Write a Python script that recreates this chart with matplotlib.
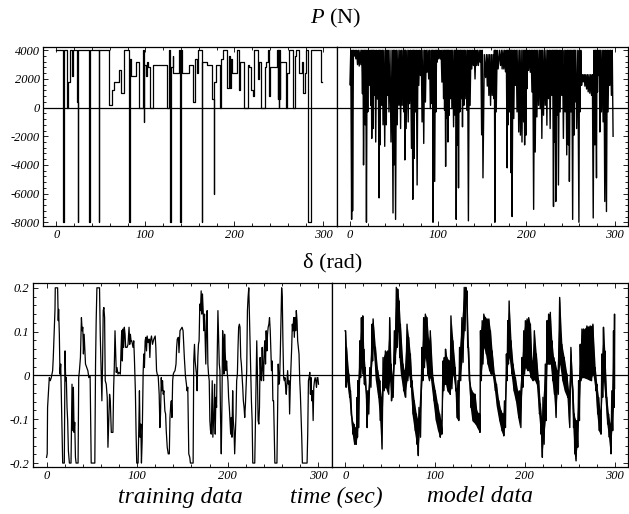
import matplotlib
matplotlib.use('Agg')
import matplotlib.pyplot as plt
from matplotlib.ticker import MultipleLocator, FuncFormatter

plt.rcParams['font.family'] = ['Liberation Serif', 'DejaVu Serif']
plt.rcParams['mathtext.fontset'] = 'custom'
plt.rcParams['mathtext.rm'] = 'Liberation Serif'
plt.rcParams['mathtext.it'] = 'Liberation Serif:italic'
plt.rcParams['axes.unicode_minus'] = False

# ---- training data: thrust P (N), piecewise constant (time of change, new level)
p_train_t = [0, 7.8, 8.4, 12.0, 13.2, 14.8, 17.5, 18.6, 23.3, 24.0,
             24.6, 37.0, 37.6, 47.6, 48.2, 59.0, 62.3, 65.3, 69.9, 72.8,
             75.7, 81.8, 82.4, 83.5, 89.5, 92.5, 97.2, 98.3, 98.9, 100.8,
             101.8, 102.8, 105.5, 109.0, 124.2, 126.5, 128.0, 128.6, 130.6, 131.5,
             137.5, 139.4, 140.0, 141.2, 148.5, 153.5, 155.5, 157.5, 159.6, 163.2,
             163.8, 169.0, 175.0, 176.8, 177.4, 179.5, 184.3, 185.5, 187.5, 191.2,
             193.5, 194.9, 196.0, 197.8, 203.0, 205.0, 206.2, 211.0, 215.4, 217.0,
             219.0, 220.5, 222.0, 226.5, 228.2, 230.2, 234.8, 236.0, 237.8, 238.8,
             240.0, 248.0, 248.6, 249.2, 249.8, 250.4, 251.0, 251.6, 257.6, 259.5,
             261.2, 266.2, 267.6, 269.4, 273.2, 275.8, 277.6, 279.4, 281.0, 282.2,
             285.8, 297.8, 299.0]
p_train_v = [4000, -8000, 4000, 0, 1800, 4000, 2200, 4000, 400, -8000,
             4000, -8000, 4000, -8000, 4000, 200, 1200, 1800, 2600, 1000,
             4000, -8000, 3400, 2200, 3200, 0, 4000, -1000, 3000, 2200,
             3200, 2800, 0, 3000, 0, 4000, -8000, 2800, 3600, 2400,
             4000, -8000, 4000, 2400, 3000, 400, 3400, 2400, 4000, -8000,
             3200, 3000, 600, -6000, 1800, 3000, 0, 3400, 4000, 1400,
             3600, 1400, 3400, 2400, 4000, 1200, 3200, 0, 3000, 2800,
             1200, 800, 4000, 2000, 3200, 0, 2800, 3200, 4000, 800,
             2800, 4000, 600, 4000, 0, 4000, 600, 3200, 0, 2400,
             4000, 0, 3600, 4000, 2400, 3200, 1000, 2400, 4000, -8000,
             4000, 1800, 1800]

# ---- model data: thrust P (N), successive spike minima and the level reached between them
p_model_t = [0.0, 1.9, 3.0, 4.9, 6.7, 8.6, 10.5, 12.4, 14.2, 15.4,
             17.2, 18.7, 20.2, 21.7, 23.6, 24.7, 26.2, 27.4, 29.2, 31.1,
             33.0, 34.1, 36.0, 37.5, 39.4, 41.2, 42.4, 44.2, 46.5, 48.8,
             49.9, 51.7, 53.6, 55.5, 57.4, 59.2, 61.1, 62.2, 63.7, 66.0,
             67.5, 69.7, 71.2, 72.7, 74.2, 76.1, 78.0, 79.9, 81.7, 83.6,
             85.5, 87.4, 89.2, 91.1, 93.0, 94.1, 96.0, 97.5, 98.6, 100.5,
             102.4, 104.2, 106.1, 107.2, 108.4, 109.9, 111.0, 112.5, 114.0, 115.5,
             117.4, 119.2, 120.4, 121.9, 123.0, 124.5, 126.0, 127.5, 129.0, 130.5,
             132.4, 134.2, 136.1, 138.0, 139.9, 141.7, 143.6, 145.5, 147.4, 149.2,
             150.7,
             153.7, 155.6, 157.4, 159.3, 161.2, 163.1, 164.2, 165.7, 167.9, 170.6,
             172.4, 174.3, 176.2, 178.1, 179.2, 180.7, 182.6, 183.7, 185.6, 187.4,
             189.3, 191.2, 193.1, 194.9, 196.8, 197.9, 199.4, 200.6, 202.4, 204.3,
             206.2, 208.1, 209.9, 211.8, 213.7, 215.6, 217.4, 219.3, 221.2, 223.1,
             224.9, 226.8, 228.7, 230.6, 231.7, 233.2, 234.7, 236.2, 238.1, 239.9,
             241.8, 243.7, 245.6, 247.4, 248.6, 250.4, 252.3, 253.8, 254.9, 256.8,
             259.4, 260.6, 262.4, 264.3, 266.2, 268.1, 269.9, 271.8, 273.7, 275.6,
             277.4, 279.3, 280.4, 281.9, 283.1, 284.9, 286.8, 288.7, 290.6, 292.4,
             294.3, 296.2, 298.1]
p_model_min = [1600, -7800, -7200, 3600, 3400, 3000, 2900, 3000, 970, -4000,
               -1200, -8000, -300, 1550, 160, -2150, -1460, 850, -2400, 600,
               -6300, -2600, 160, -1200, -2700, -1200, 850, -300, -2400, -7350,
               -4000, -7800, -1200, 160, -1460, 160, -300, -3650, -1460, -1000,
               280, -2840, -6400, -3540, -300, -5400, 1550, 2240, -1000, -2500,
               390, 2470, 2000, -70, 280, -8000, -5150, -300, 3170, 3400,
               3400, 1780, 625, -185, -4100, -760, -2400, -530, 625, -70,
               -1340, -530, -7800, -2600, -5600, -300, 625, -1340, 160, 625,
               -185, -7900, 160, 2700, 2940, 2000, 2940, 2940, 3170, -1900,
               -4900,
               2100, 1500, 850, 160, 850, 625, -8000, -300, 2700, 2940,
               2700, 2700, 2500, -4200, -1200, -300, -4550, -7600, -760, 1550,
               -300, -1700, -1920, -2400, -995, -2600, -1920, 1320, 2600, 2470,
               1090, -7100, -3100, -650, 160, -70, -2150, -530, 160, -1225,
               625, -1460, 855, -6900, -2400, -6550, -530, -5400, -300, 855,
               -2150, -300, -3300, -2600, -5150, -300, -7800, -1920, 390, -1460,
               -8000, -300, 1550, 1800, 1500, 1300, 1100, 1000, 855, -7700,
               -2600, -4900, 1090, 2240, -1700, -300, -995, -6550, -7250, -300,
               1550, 855, -2000]
p_model_top = [4000] * 91 + [3700] * 6 + [4000] * 57 + [2300] * 7 + [4000] * 13

# ---- training data: rudder angle delta (rad)
d_train_t = [0.0, 0.7, 1.1, 2.2, 3.0, 4.1, 5.2, 6.7, 7.4, 8.5,
             9.3, 9.6, 12.2, 12.9, 13.3, 14.1, 14.8, 15.6, 16.3, 17.0,
             17.8, 19.6, 20.4, 21.1, 21.8, 22.6, 23.3, 24.1, 25.2, 27.0,
             28.1, 28.9, 29.6, 30.4, 31.1, 31.9, 32.6, 34.8, 35.5, 36.3,
             37.4, 38.5, 39.3, 40.0, 40.7, 41.5, 42.2, 43.0, 44.4, 45.6,
             46.7, 48.1, 49.3, 53.3, 54.1, 54.8, 55.6, 58.5, 59.3, 60.4,
             61.1, 61.9, 62.6, 63.3, 64.1, 64.8, 65.9, 67.0, 67.8, 68.9,
             69.6, 70.4, 71.5, 73.3, 74.1, 74.8, 75.6, 76.3, 77.0, 77.8,
             78.9, 80.0, 81.5, 82.2, 83.0, 83.7, 84.4, 85.2, 85.9, 86.7,
             87.4, 88.9, 90.0, 91.1, 91.9, 92.6, 93.3, 94.1, 95.5, 96.3,
             97.0, 98.1, 98.9, 99.6, 101.1, 101.9, 102.6, 103.3, 104.1, 104.8,
             105.6, 106.7, 107.4, 108.1, 108.9, 109.6, 110.4, 111.1, 112.2, 113.3,
             114.1, 114.8, 115.9, 117.0, 118.5, 120.0, 120.7, 121.5, 122.2, 123.3,
             124.4, 125.2, 125.9, 126.7, 127.4, 128.1, 128.9, 129.6, 130.7, 131.5,
             132.2, 133.3, 134.4, 135.6, 136.3, 137.0, 137.8, 138.5, 139.3, 140.0,
             140.7, 141.9, 143.0, 143.7, 144.4, 145.6, 146.3, 147.4,
             149.7, 150.8, 151.5, 152.2, 153.4, 154.5, 155.2, 156.0, 157.1, 158.2,
             158.9, 161.9, 162.6, 163.4, 164.1, 164.8, 165.6, 166.3, 167.1, 167.8,
             168.5, 169.3, 170.0, 170.8, 171.5, 172.2, 173.0, 173.7, 174.5, 175.2,
             175.9, 176.7, 177.4, 178.2, 178.9, 179.7, 180.4, 181.1, 181.9, 183.0,
             183.7, 184.8, 185.6, 186.3, 187.1, 187.8, 188.5, 189.3, 190.0, 190.8,
             191.5, 192.2, 193.0, 193.7, 194.5, 195.2, 195.9, 196.7, 197.4, 198.2,
             198.9, 199.7, 200.4, 201.1, 201.9, 202.6, 203.4, 204.1, 204.8, 205.6,
             206.3, 207.1, 207.8, 208.5, 209.3, 210.0, 210.8, 211.5, 212.2, 213.0,
             213.7, 214.5, 215.2, 215.9, 216.7, 217.4, 218.2, 218.9, 219.7, 220.4,
             221.1, 221.9, 222.6, 223.4, 224.1, 224.8, 225.6, 226.3, 227.1, 227.8,
             230.0, 230.8, 231.5, 232.2, 233.0, 233.7, 234.5, 235.2, 235.9, 236.7,
             237.4, 238.2, 238.9, 239.7, 240.4, 241.1, 241.9, 242.6, 243.4, 244.1,
             244.8, 245.6, 246.3, 247.1, 247.8, 248.5, 249.3, 250.0, 250.8, 251.5,
             252.2, 254.5, 255.2, 255.9, 256.7, 257.4, 258.2, 258.9, 259.7, 260.4,
             261.1, 261.9, 262.6, 263.4, 264.1, 264.8, 265.6, 266.3, 267.1, 267.8,
             268.5, 269.3, 270.0, 270.8, 271.5, 272.2, 273.0, 273.7, 274.5, 275.2,
             275.9, 276.7, 277.4, 278.2, 278.9, 279.7, 280.4, 281.1, 281.9, 282.6,
             287.8, 288.5, 289.3, 290.0, 290.8, 291.5, 292.2, 293.0, 293.7, 294.5,
             295.2, 296.0, 296.7, 297.4, 298.2, 298.9, 299.7, 300.4]
d_train_v = [-0.187, -0.179, -0.073, -0.035, -0.005, -0.012, -0.005, 0.011, 0.041, 0.102,
             0.151, 0.2, 0.2, 0.125, 0.151, 0.094, 0.003, 0.026, -0.050, -0.134,
             -0.2, -0.2, 0.056, -0.012, -0.005, -0.073, -0.103, -0.172, -0.2, -0.2,
             -0.020, -0.126, -0.027, -0.130, -0.107, -0.187, -0.2, -0.2, -0.005, 0.011,
             0.041, 0.132, 0.102, 0.110, 0.049, 0.094, 0.064, 0.026, 0.018, 0.011,
             -0.005, -0.001, -0.2, -0.2, 0.026, 0.125, 0.2, 0.2, 0.094, -0.005,
             -0.058, 0.033, 0.148, 0.155, 0.132, -0.012, -0.020, -0.050, -0.164, -0.088,
             -0.043, -0.058, -0.130, -0.130, -0.027, 0.018, 0.102, 0.056, 0.007, 0.018,
             0.003, 0.007, 0.003, 0.056, 0.102, 0.033, 0.106, 0.064, 0.110, 0.094,
             0.064, 0.064, 0.071, 0.110, 0.071, 0.094, 0.079, 0.079, 0.064, 0.079,
             0.041, -0.035, -0.134, -0.2, -0.2, -0.119, -0.035, -0.141, -0.111, -0.2,
             -0.149, 0.007, 0.049, 0.018, 0.079, 0.087, 0.056, 0.090, 0.075, 0.083,
             0.041, 0.079, 0.090, 0.071, 0.083, 0.090, 0.064, 0.011, 0.003, -0.001,
             -0.043, -0.119, -0.088, -0.005, -0.035, -0.012, -0.043, -0.035, -0.081, -0.088,
             -0.126, -0.164, -0.179, -0.179, -0.096, -0.073, -0.058, -0.096, -0.012, 0.003,
             0.007, 0.011, 0.026, 0.064, 0.083, 0.087, 0.052, 0.102,
             0.110, 0.102, 0.071, 0.041, -0.001, -0.020, -0.035, -0.027, -0.179, -0.187,
             -0.2, -0.2, 0.033, 0.071, 0.033, 0.018, 0.003, -0.035, 0.041, 0.071,
             0.079, 0.163, 0.148, 0.193, 0.140, 0.186, 0.148, 0.102, 0.140, 0.079,
             0.026, 0.125, 0.148, 0.026, 0.003, -0.012, -0.103, -0.126, -0.134, -0.012,
             -0.141, -0.088, -0.020, -0.134, -0.050, -0.073, 0.041, 0.148, 0.094, 0.026,
             0.011, -0.096, -0.179, -0.073, 0.102, 0.079, 0.003, 0.094, 0.049, 0.011,
             0.033, 0.003, -0.012, -0.050, -0.073, -0.103, -0.134, -0.096, -0.141, -0.035,
             -0.103, -0.126, -0.179, -0.134, -0.088, -0.012, 0.003, 0.064, 0.110, 0.117,
             0.110, 0.041, 0.026, 0.003, -0.027, -0.058, -0.073, -0.096, -0.065, -0.027,
             0.011, 0.148, 0.178, 0.2, 0.140, 0.079, 0.003, -0.058, -0.103, -0.2,
             -0.2, -0.103, -0.027, 0.079, -0.005, -0.103, -0.111, -0.073, 0.041, -0.005,
             -0.012, 0.064, 0.018, -0.012, 0.056, 0.079, 0.026, 0.102, 0.056, 0.094,
             0.110, 0.117, 0.132, 0.102, 0.056, 0.011, 0.033, -0.058, -0.058, -0.126,
             -0.2, -0.2, -0.096, 0.026, -0.020, -0.012, 0.049, 0.125, 0.2, 0.178,
             0.079, -0.005, -0.012, -0.005, -0.027, -0.043, -0.012, 0.011, -0.020, -0.012,
             -0.088, -0.020, 0.018, 0.064, 0.117, 0.102, 0.132, 0.087, 0.132, 0.102,
             0.148, 0.125, 0.079, 0.064, 0.049, -0.012, -0.043, -0.088, -0.141, -0.2,
             -0.2, -0.134, -0.012, -0.005, 0.007, -0.043, -0.005, -0.058, -0.035, -0.103,
             -0.027, -0.012, -0.005, -0.012, -0.027, -0.005, -0.005, -0.020]

# ---- model data: rudder angle delta (rad), upper and lower edge of the oscillating trace
d_model_t = [0.0, 0.5, 1.5, 4.1, 5.9, 7.8, 9.6, 11.5, 13.3, 14.1,
             16.3, 18.1, 19.6, 20.7, 22.2, 23.7, 25.2, 27.4, 30.0, 31.1,
             33.7, 36.3, 38.5, 40.0, 42.2, 44.8, 47.4, 49.6, 51.1, 52.2,
             54.8, 57.0, 58.5, 60.0, 61.5, 64.4, 65.9, 68.9, 70.7, 72.6,
             74.4, 77.0, 79.3, 80.7, 82.2, 85.6, 87.4, 89.3, 91.1, 93.0,
             94.8, 97.8, 100.4, 103.0, 105.2, 106.7, 108.9, 110.4, 111.8, 113.3,
             116.3, 117.8, 120.0, 122.6, 123.7, 125.6, 127.4, 130.0, 132.6, 134.4,
             135.6, 137.4, 139.3, 141.1, 144.8, 146.7, 149.6, 150.7, 152.6, 154.4,
             156.3, 158.1, 160.0, 161.8, 163.7, 166.3, 168.5, 171.1, 173.7, 175.9,
             177.4, 179.6, 181.1, 182.6, 184.8, 187.0, 189.6, 192.2, 194.4, 197.0,
             198.9, 200.7, 202.6, 204.4, 206.3, 208.1, 210.7, 212.9, 215.5, 217.4,
             218.9, 220.3, 222.9, 224.8, 226.6, 228.5, 230.3, 232.2, 234.0, 235.9,
             238.9, 241.4, 244.0, 247.0, 248.9, 251.4, 253.7, 255.1, 256.3, 258.1,
             260.0, 261.8, 263.7, 265.5, 269.2, 272.9, 275.9, 278.5, 280.3, 282.2,
             284.0, 285.9, 287.7, 289.2, 291.4, 293.3, 295.1, 297.0, 298.9, 300.0]
d_model_hi = [0.102, 0.102, 0.064, 0.003, -0.035, -0.100, -0.111, -0.120, -0.050, -0.012,
              0.079, 0.132, 0.136, 0.060, 0.018, -0.043, -0.035, 0.018, 0.117, 0.129,
              0.064, 0.011, -0.012, -0.050, 0.041, 0.056, 0.056, 0.132, 0.026, 0.000,
              0.102, 0.201, 0.197, 0.170, 0.117, 0.026, 0.011, 0.117, 0.087, 0.049,
              -0.012, -0.058, -0.088, -0.100, -0.073, 0.064, 0.132, 0.140, 0.132, 0.079,
              0.102, -0.005, -0.035, -0.065, -0.088, -0.103, 0.033, 0.041, 0.060, 0.041,
              0.033, 0.136, 0.079, 0.018, -0.030, -0.012, 0.064, 0.132, 0.201, 0.201,
              0.193, 0.064, -0.020, -0.035, -0.043, -0.081, -0.088, 0.102, 0.125, 0.140,
              0.132, 0.129, 0.129, 0.102, 0.056, 0.003, -0.020, -0.058, -0.081, -0.088,
              -0.058, 0.049, 0.125, 0.170, 0.079, 0.026, -0.005, -0.035, -0.035, 0.041,
              0.102, 0.125, 0.129, 0.132, 0.117, 0.033, 0.102, 0.049, -0.012, -0.065,
              -0.100, -0.050, 0.026, 0.125, 0.140, 0.144, 0.079, 0.041, 0.030, 0.011,
              0.178, 0.071, 0.041, 0.003, -0.035, 0.064, -0.035, -0.088, -0.100, -0.103,
              -0.012, 0.071, 0.106, 0.106, 0.113, 0.113, 0.117, 0.018, -0.020, -0.050,
              -0.081, 0.049, 0.110, 0.056, -0.050, -0.088, -0.111, -0.035, 0.102, 0.140]
d_model_lo = [0.102, -0.027, -0.012, -0.050, -0.090, -0.134, -0.157, -0.157, -0.141, -0.119,
              -0.005, 0.018, 0.003, -0.020, -0.027, -0.119, -0.088, -0.027, 0.033, 0.064,
              -0.012, -0.050, -0.103, -0.168, -0.035, -0.027, -0.043, -0.012, -0.058, -0.050,
              0.026, 0.064, 0.102, 0.041, 0.003, -0.035, -0.050, -0.012, 0.003, -0.027,
              -0.088, -0.126, -0.157, -0.183, -0.141, -0.012, 0.018, 0.041, 0.003, -0.012,
              -0.005, -0.058, -0.103, -0.126, -0.141, -0.134, -0.035, -0.020, -0.020, -0.035,
              -0.043, -0.030, 0.003, -0.035, -0.096, -0.103, -0.012, 0.030, 0.102, 0.170,
              0.064, -0.012, -0.073, -0.103, -0.111, -0.119, -0.130, -0.012, 0.026, 0.064,
              0.049, 0.026, 0.011, 0.003, 0.003, -0.035, -0.073, -0.103, -0.126, -0.138,
              -0.119, -0.012, 0.026, 0.041, 0.003, -0.035, -0.058, -0.096, -0.119, -0.027,
              0.003, 0.018, 0.011, 0.011, -0.005, -0.012, -0.010, -0.020, -0.088, -0.134,
              -0.187, -0.157, -0.103, 0.026, 0.026, 0.026, -0.012, -0.043, -0.096, -0.043,
              0.026, -0.012, -0.035, -0.050, -0.119, -0.012, -0.119, -0.179, -0.195, -0.164,
              -0.103, -0.012, -0.005, -0.005, -0.008, -0.012, 0.003, -0.035, -0.088, -0.126,
              -0.134, -0.050, -0.012, -0.050, -0.111, -0.141, -0.179, -0.126, -0.073, -0.030]

W, H = 629, 514
fig = plt.figure(figsize=(W / 100, H / 100), dpi=100)


def rect(x0, x1, y0, y1):
    return [x0 / W, 1 - y1 / H, (x1 - x0) / W, (y1 - y0) / H]


def style(ax, left, ylim, ymajor, yminor):
    ax.set_xlim(-15, 315)
    ax.set_ylim(*ylim)
    ax.xaxis.set_major_locator(MultipleLocator(100))
    ax.xaxis.set_minor_locator(MultipleLocator(20))
    ax.yaxis.set_major_locator(MultipleLocator(ymajor))
    ax.yaxis.set_minor_locator(MultipleLocator(yminor))
    ax.yaxis.set_major_formatter(FuncFormatter(lambda v, p: '%g' % round(v, 6)))
    ax.tick_params(which='both', direction='in', top=True, bottom=True,
                   left=left, right=not left, labelleft=left, labelright=False,
                   labelsize=9, width=0.6, pad=2.5)
    ax.tick_params(which='major', length=3.5)
    ax.tick_params(which='minor', length=2)
    for lbl in ax.get_xticklabels() + ax.get_yticklabels():
        lbl.set_fontstyle('italic')
    for s in ax.spines.values():
        s.set_linewidth(0.9)
    ax.axhline(0, color='k', lw=0.9)


ax_pt = fig.add_axes(rect(43, 336.7, 47, 226))
ax_pm = fig.add_axes(rect(336.7, 628, 47, 226))
ax_dt = fig.add_axes(rect(33, 331.7, 283, 467))
ax_dm = fig.add_axes(rect(331.7, 628, 283, 467))

# training thrust
ax_pt.plot(p_train_t, p_train_v, color='k', lw=0.9, drawstyle='steps-post')

# model thrust: level between spikes, then spike minimum
pt, pv = [], []
for i in range(len(p_model_t)):
    if i > 0:
        pt.append((p_model_t[i - 1] + p_model_t[i]) / 2)
        pv.append(p_model_top[i])
    pt.append(p_model_t[i])
    pv.append(p_model_min[i])
ax_pm.plot(pt, pv, color='k', lw=1.0)

# training rudder
ax_dt.plot(d_train_t, d_train_v, color='k', lw=0.9)

# model rudder: dense oscillation, drawn as the band between its edges plus a zigzag
ax_dm.fill_between(d_model_t, d_model_lo, d_model_hi, color='k', lw=0)
dt, dv = [], []
for i in range(len(d_model_t)):
    dt.append(d_model_t[i])
    dv.append(d_model_hi[i])
    if i + 1 < len(d_model_t):
        dt.append((d_model_t[i] + d_model_t[i + 1]) / 2)
    else:
        dt.append(d_model_t[i])
    dv.append(d_model_lo[i])
ax_dm.plot(dt, dv, color='k', lw=1.0)

for ax, left in [(ax_pt, True), (ax_pm, False)]:
    style(ax, left, (-8260, 4230), 2000, 400)
for ax, left in [(ax_dt, True), (ax_dm, False)]:
    style(ax, left, (-0.209, 0.211), 0.1, 0.02)

fig.text(336 / W, 1 - 18 / H, r'$P$ (N)', ha='center', va='center', fontsize=16)
fig.text(333 / W, 1 - 263 / H, 'δ (rad)', ha='center', va='center', fontsize=16)
fig.text(180 / W, 1 - 497 / H, 'training data', ha='center', va='center',
         fontsize=17, fontstyle='italic')
fig.text(336 / W, 1 - 497 / H, 'time (sec)', ha='center', va='center',
         fontsize=17, fontstyle='italic')
fig.text(480 / W, 1 - 497 / H, 'model data', ha='center', va='center',
         fontsize=17, fontstyle='italic')

fig.savefig('out.png', dpi=100)
plt.close(fig)
